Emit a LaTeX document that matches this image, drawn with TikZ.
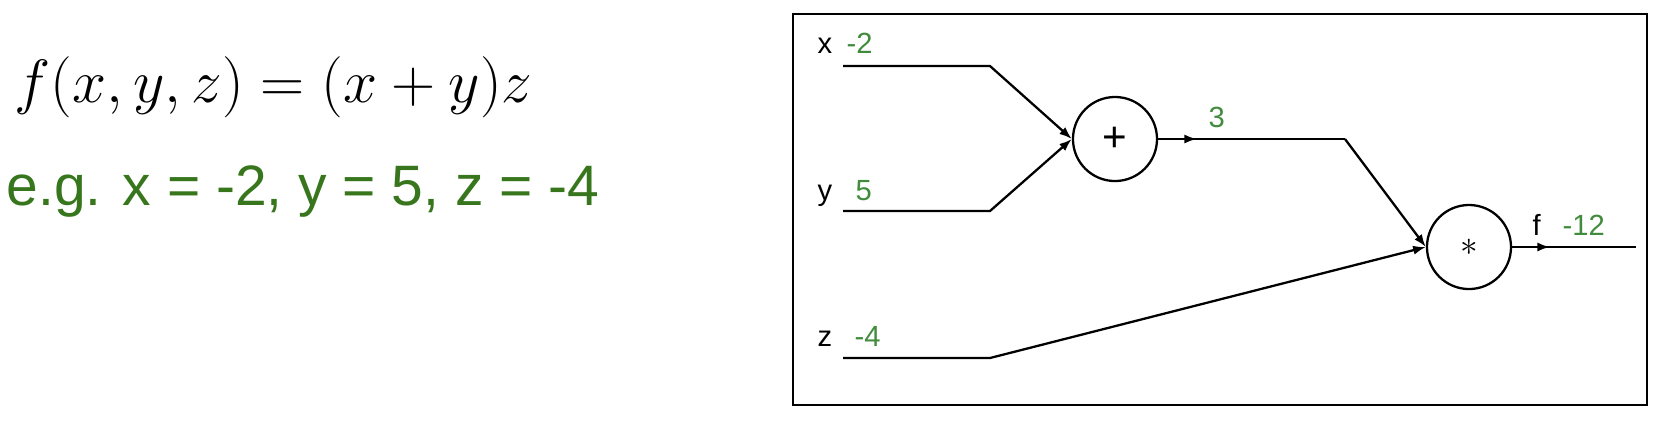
\RequirePackage{fix-cm}
\documentclass[tikz,border=0pt]{standalone}
\usepackage[no-math]{fontspec}
\newfontfamily\arialfont{Liberation Sans}
\usepackage{xcolor}
\usepackage{tikz}
\usetikzlibrary{arrows.meta}
\definecolor{egreen}{RGB}{56,118,29}
\definecolor{valgreen}{RGB}{64,140,60}
\tikzstyle{wire} = [draw, line width=0.65pt]
\tikzstyle{arrowwire} = [wire, -{Latex[length=3.6pt,width=2.6pt]}]
\tikzstyle{gate} = [circle, draw, line width=0.65pt, minimum size=0.84cm, inner sep=0pt]
\tikzstyle{lbl} = [anchor=base west, inner sep=0pt, font={\arialfont\fontsize{8.3pt}{10pt}\selectfont}]
\tikzstyle{val} = [lbl, text=valgreen]

\begin{document}
\begin{tikzpicture}[x=0.01cm, y=-0.01cm]
\useasboundingbox (0,0) rectangle (1656,432);

% function and example input
\node (fn) [anchor=base west, inner sep=0pt, font={\fontsize{17.4pt}{20pt}\selectfont}] at (14,102) {$f(x,y,z)=(x+y)z$};
\node (eg) [anchor=base west, inner sep=0pt, text=egreen, font={\arialfont\fontsize{16.2pt}{20pt}\selectfont}] at (6,205) {e.g. x = -2, y = 5, z = -4};

% circuit
\draw [line width=0.7pt] (793,14) rectangle (1647,405);

\node (add) [gate, font={\arialfont\fontsize{12pt}{12pt}\selectfont}] at (1115,139) {+};
\node (mul) [gate, font={\fontsize{10pt}{12pt}\selectfont}] at (1469,247) {$\ast$};

\coordinate (xs) at (843,66);
\coordinate (xb) at (990,66);
\coordinate (ys) at (843,211);
\coordinate (yb) at (990,211);
\coordinate (zs) at (843,358);
\coordinate (zb) at (990,358);
\coordinate (qb) at (1345,139);
\coordinate (qa) at (1197,139);
\coordinate (fa) at (1550,247);
\coordinate (fe) at (1636,247);

\draw [arrowwire] (xs) -- (xb) -- (add.west);
\draw [arrowwire] (ys) -- (yb) -- (add.west);
\draw [arrowwire] (zs) -- (zb) -- (mul.west);
\draw [wire] (add.east) -- (qb);
\draw [arrowwire] (add.east) -- (qa);
\draw [arrowwire] (qb) -- (mul.west);
\draw [wire] (mul.east) -- (fe);
\draw [arrowwire] (mul.east) -- (fa);

\node (xl) [lbl] at (817,53) {x};
\node (xv) [val] at (846,53) {-2};
\node (yl) [lbl] at (817,200) {y};
\node (yv) [val] at (855,200) {5};
\node (zl) [lbl] at (817,346) {z};
\node (zv) [val] at (854,346) {-4};
\node (qv) [val] at (1208,127) {3};
\node (fl) [lbl] at (1532,235) {f};
\node (fv) [val] at (1562,235) {-12};

\end{tikzpicture}
\end{document}
